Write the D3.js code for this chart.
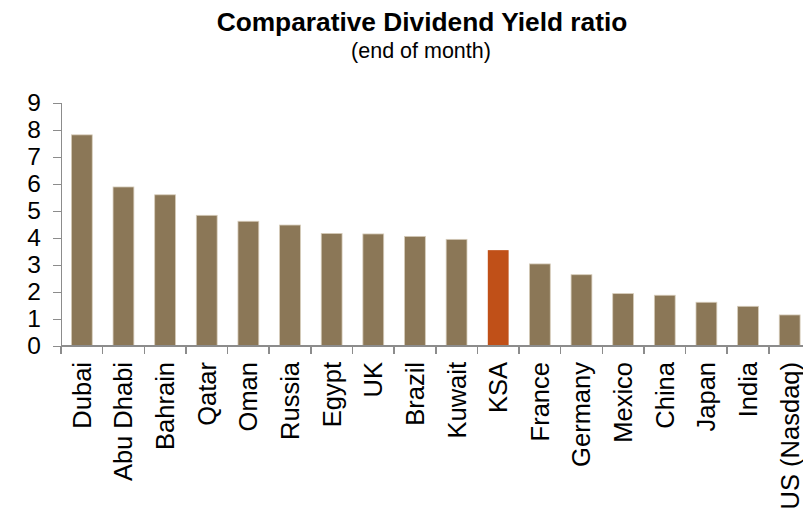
<!DOCTYPE html>
<meta charset="utf-8">
<style>
body { margin: 0; background: #fff; }
text { font-family: "Liberation Sans", Arial, sans-serif; fill: #000; }
.axis path, .axis line { fill: none; stroke: #8c8c8c; stroke-width: 1.5; shape-rendering: crispEdges; }
</style>
<body>
<script src="https://cdn.jsdelivr.net/npm/d3@7"></script>
<script>
// values
var countries = ["Dubai", "Abu Dhabi", "Bahrain", "Qatar", "Oman", "Russia", "Egypt", "UK",
                 "Brazil", "Kuwait", "KSA", "France", "Germany", "Mexico", "China", "Japan",
                 "India", "US (Nasdaq)"];
var yields = [7.82, 5.89, 5.6, 4.84, 4.62, 4.48, 4.17, 4.15,
              4.06, 3.95, 3.55, 3.04, 2.64, 1.94, 1.88, 1.62, 1.47, 1.15];
var yTicks = [0, 1, 2, 3, 4, 5, 6, 7, 8, 9];
var highlight = "KSA";

var W = 803, H = 515;
var pLeft = 61, pRight = 810.5, pTop = 103, pBottom = 346;

var svg = d3.select("body").append("svg")
    .attr("width", W)
    .attr("height", H);

var x = d3.scaleBand()
    .domain(countries)
    .range([pLeft, pRight])
    .paddingInner(0.5)
    .paddingOuter(0.25);

var y = d3.scaleLinear()
    .domain([0, 9])
    .range([pBottom, pTop]);

// title
svg.append("text")
    .attr("x", 422)
    .attr("y", 31)
    .attr("text-anchor", "middle")
    .style("font-size", "26.3px")
    .style("font-weight", "bold")
    .text("Comparative Dividend Yield ratio");

svg.append("text")
    .attr("x", 421)
    .attr("y", 58)
    .attr("text-anchor", "middle")
    .style("font-size", "21.5px")
    .text("(end of month)");

// bars
svg.selectAll(".bar")
    .data(countries)
  .enter().append("rect")
    .attr("class", "bar")
    .attr("x", function(d) { return x(d); })
    .attr("width", x.bandwidth())
    .attr("y", function(d, i) { return y(yields[i]); })
    .attr("height", function(d, i) { return y(0) - y(yields[i]); })
    .style("fill", function(d) { return d == highlight ? "#c05018" : "#8b7757"; })
    .style("stroke", function(d) { return d == highlight ? "none" : "#d6ccba"; })
    .style("stroke-width", 0.8);

// y axis
var yAxis = svg.append("g")
    .attr("class", "axis")
    .attr("transform", "translate(" + pLeft + ",0)")
    .call(d3.axisLeft(y).tickValues(yTicks).tickSize(8).tickPadding(12));
yAxis.selectAll("text")
    .style("font-size", "24.5px");

// x axis with ticks at band boundaries
var step = x.step();
var bounds = countries.map(function(d) { return x(d) - step * 0.25; });
var xAxis = svg.append("g").attr("class", "axis");
xAxis.append("line")
    .attr("x1", pLeft).attr("x2", pRight)
    .attr("y1", pBottom).attr("y2", pBottom);
xAxis.selectAll(".xt")
    .data(bounds)
  .enter().append("line")
    .attr("x1", function(d) { return d; })
    .attr("x2", function(d) { return d; })
    .attr("y1", pBottom)
    .attr("y2", pBottom + 8);

svg.selectAll(".lab")
    .data(countries)
  .enter().append("text")
    .attr("class", "lab")
    .attr("transform", function(d) {
      return "translate(" + (x(d) + x.bandwidth() / 2 + 9) + "," + 362 + ") rotate(-90)";
    })
    .attr("text-anchor", "end")
    .style("font-size", "25.5px")
    .text(function(d) { return d; });
</script>
